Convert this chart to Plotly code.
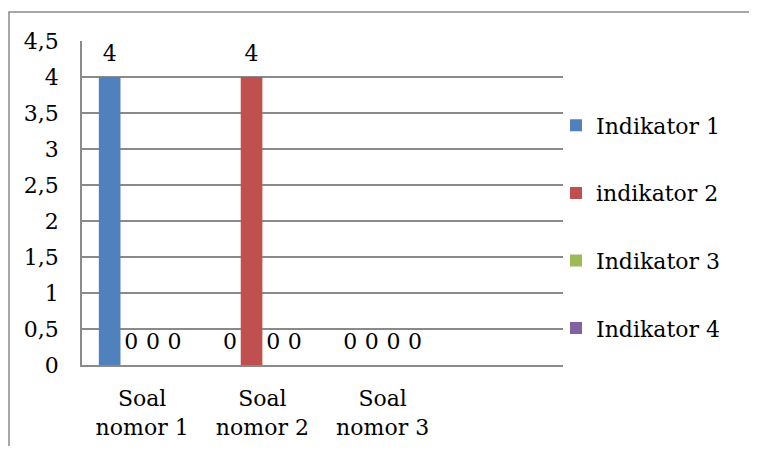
import plotly.graph_objects as go

categories = ["Soal<br>nomor 1", "Soal<br>nomor 2", "Soal<br>nomor 3"]
series_names = ["Indikator 1", "indikator 2", "Indikator 3", "Indikator 4"]
indikator_1 = [4, 0, 0]
indikator_2 = [0, 4, 0]
indikator_3 = [0, 0, 0]
indikator_4 = [0, 0, 0]
series_values = [indikator_1, indikator_2, indikator_3, indikator_4]
colors = ["#4F81BD", "#C0504D", "#9BBB59", "#8064A2"]
y_ticks = [0, 0.5, 1, 1.5, 2, 2.5, 3, 3.5, 4, 4.5]

FONT = "DejaVu Serif"
FS = 22
GRID = "#8A8A8A"

OFF = 8  # page body margin
W, H = 757 - 2 * OFF, 454 - 2 * OFF
# reference pixel geometry of the plot area
L_REF, R_REF, T_REF, B_REF = 82, 563, 41, 365
ML, MT = L_REF - OFF, T_REF - OFF
MR, MB = W - (R_REF - OFF), H - (B_REF - OFF)
PW = W - ML - MR
PH = H - MT - MB

def px_to_paper_x(px):
    return (px - OFF - ML) / PW

def px_to_paper_y(py):
    return (MT + PH - (py - OFF)) / PH

fig = go.Figure()
for i, (name, vals, col) in enumerate(zip(series_names, series_values, colors)):
    fig.add_trace(go.Bar(
        x=categories, y=vals, name=name,
        marker=dict(color=col, line=dict(width=0)),
        text=vals,
        texttemplate="<span style='font-size:34px'><sub>&nbsp;</sub></span>%{y}<span style='font-size:34px'><sub>&nbsp;</sub></span>",
        textposition="outside",
        constraintext="none",
        cliponaxis=False,
        textfont=dict(family=FONT, size=FS, color="black"),
        legendgroup=f"g{i}",
    ))

# outer chart border
fig.add_shape(type="rect", xref="paper", yref="paper",
              x0=px_to_paper_x(9), x1=px_to_paper_x(800),
              y0=px_to_paper_y(500), y1=px_to_paper_y(12),
              line=dict(color=GRID, width=1.5), fillcolor="rgba(0,0,0,0)", layer="below")

fig.update_layout(
    width=W, height=H,
    margin=dict(l=ML, r=MR, t=MT, b=MB, pad=0, autoexpand=False),
    paper_bgcolor="white", plot_bgcolor="white",
    separators=", ",
    barmode="group", bargap=0.28, bargroupgap=0,
    font=dict(family=FONT, size=FS, color="black"),
    showlegend=True,
    legend=dict(x=px_to_paper_x(556), xanchor="left", y=px_to_paper_y(227), yanchor="middle",
                tracegroupgap=36, font=dict(family=FONT, size=FS, color="black"),
                bgcolor="rgba(0,0,0,0)", borderwidth=0),
    xaxis=dict(type="category", range=[-0.5, 3.5], showgrid=False, showline=True,
               linecolor=GRID, linewidth=1.5, ticks="", ticklabelstandoff=13,
               tickfont=dict(family=FONT, size=FS, color="black"), fixedrange=True),
    yaxis=dict(range=[0, 4.5], tickvals=y_ticks, showgrid=True, gridcolor=GRID, gridwidth=1.5,
               showline=True, linecolor=GRID, linewidth=1.5, zeroline=False, ticks="",
               ticklabelstandoff=17, tickfont=dict(family=FONT, size=FS, color="black"),
               fixedrange=True),
)

fig.write_html("out.html")
